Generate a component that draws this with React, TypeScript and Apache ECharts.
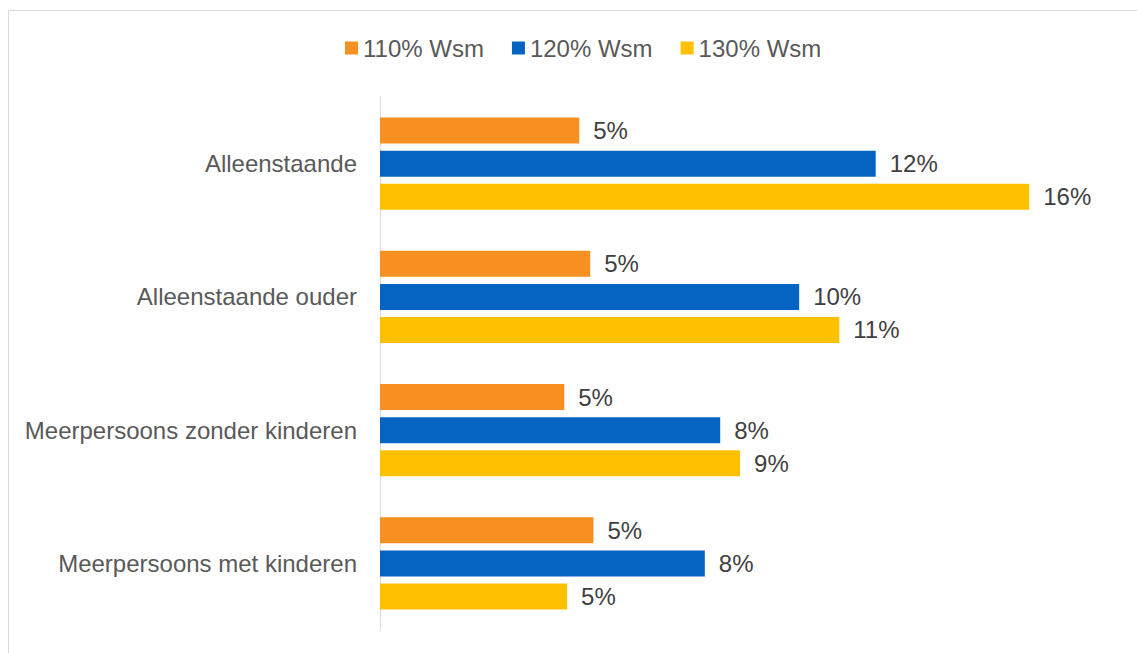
import React, { useEffect, useRef } from "react";
import * as echarts from "echarts";

const categories = [
  "Alleenstaande",
  "Alleenstaande ouder",
  "Meerpersoons zonder kinderen",
  "Meerpersoons met kinderen",
];
const seriesNames = ["110% Wsm", "120% Wsm", "130% Wsm"];
const wsm110 = [4.92, 5.19, 4.55, 5.27];
const wsm120 = [12.24, 10.35, 8.4, 8.02];
const wsm130 = [16.03, 11.34, 8.89, 4.62];
const colors = ["#F79020", "#0563C1", "#FFC000"];

export default function App() {
  const ref = useRef<HTMLDivElement>(null);
  useEffect(() => {
    if (!ref.current) return;
    const chart = echarts.init(ref.current, null, { renderer: "svg" });
    const values = [wsm110, wsm120, wsm130];
    const font = "'Liberation Sans', Arial, sans-serif";
    chart.setOption({
      animation: false,
      textStyle: { fontFamily: font },
      graphic: [
        {
          type: "rect",
          shape: { x: 8.5, y: 10.5, width: 1200, height: 700 },
          style: { fill: "none", stroke: "#d9d9d9", lineWidth: 1 },
          silent: true,
        },
      ],
      legend: {
        left: 340,
        top: 31,
        itemWidth: 13,
        itemHeight: 13,
        itemGap: 28,
        icon: "rect",
        data: seriesNames,
        textStyle: { fontSize: 24, color: "#595959", fontFamily: font },
      },
      grid: { left: 380, top: 97, width: 729, height: 533, containLabel: false },
      xAxis: {
        type: "value",
        min: 0,
        max: 18,
        show: false,
        splitLine: { show: false },
      },
      yAxis: {
        type: "category",
        data: categories,
        inverse: true,
        axisTick: { show: false },
        axisLine: { show: true, lineStyle: { color: "#d9d9d9", width: 1 } },
        axisLabel: { fontSize: 24, color: "#595959", margin: 23, fontFamily: font },
      },
      series: seriesNames.map((name, i) => ({
        name,
        type: "bar",
        data: values[i],
        barWidth: 26,
        barGap: "27%",
        barCategoryGap: "31%",
        itemStyle: { color: colors[i] },
        label: {
          show: true,
          position: "right",
          distance: 14,
          fontSize: 24,
          color: "#404040",
          fontFamily: font,
          formatter: (p: any) => Math.round(p.value) + "%",
        },
      })),
    });
    return () => chart.dispose();
  }, []);
  return (
    <div
      ref={ref}
      style={{ position: "fixed", left: 0, top: 0, width: 1137, height: 653, background: "#fff" }}
    />
  );
}
